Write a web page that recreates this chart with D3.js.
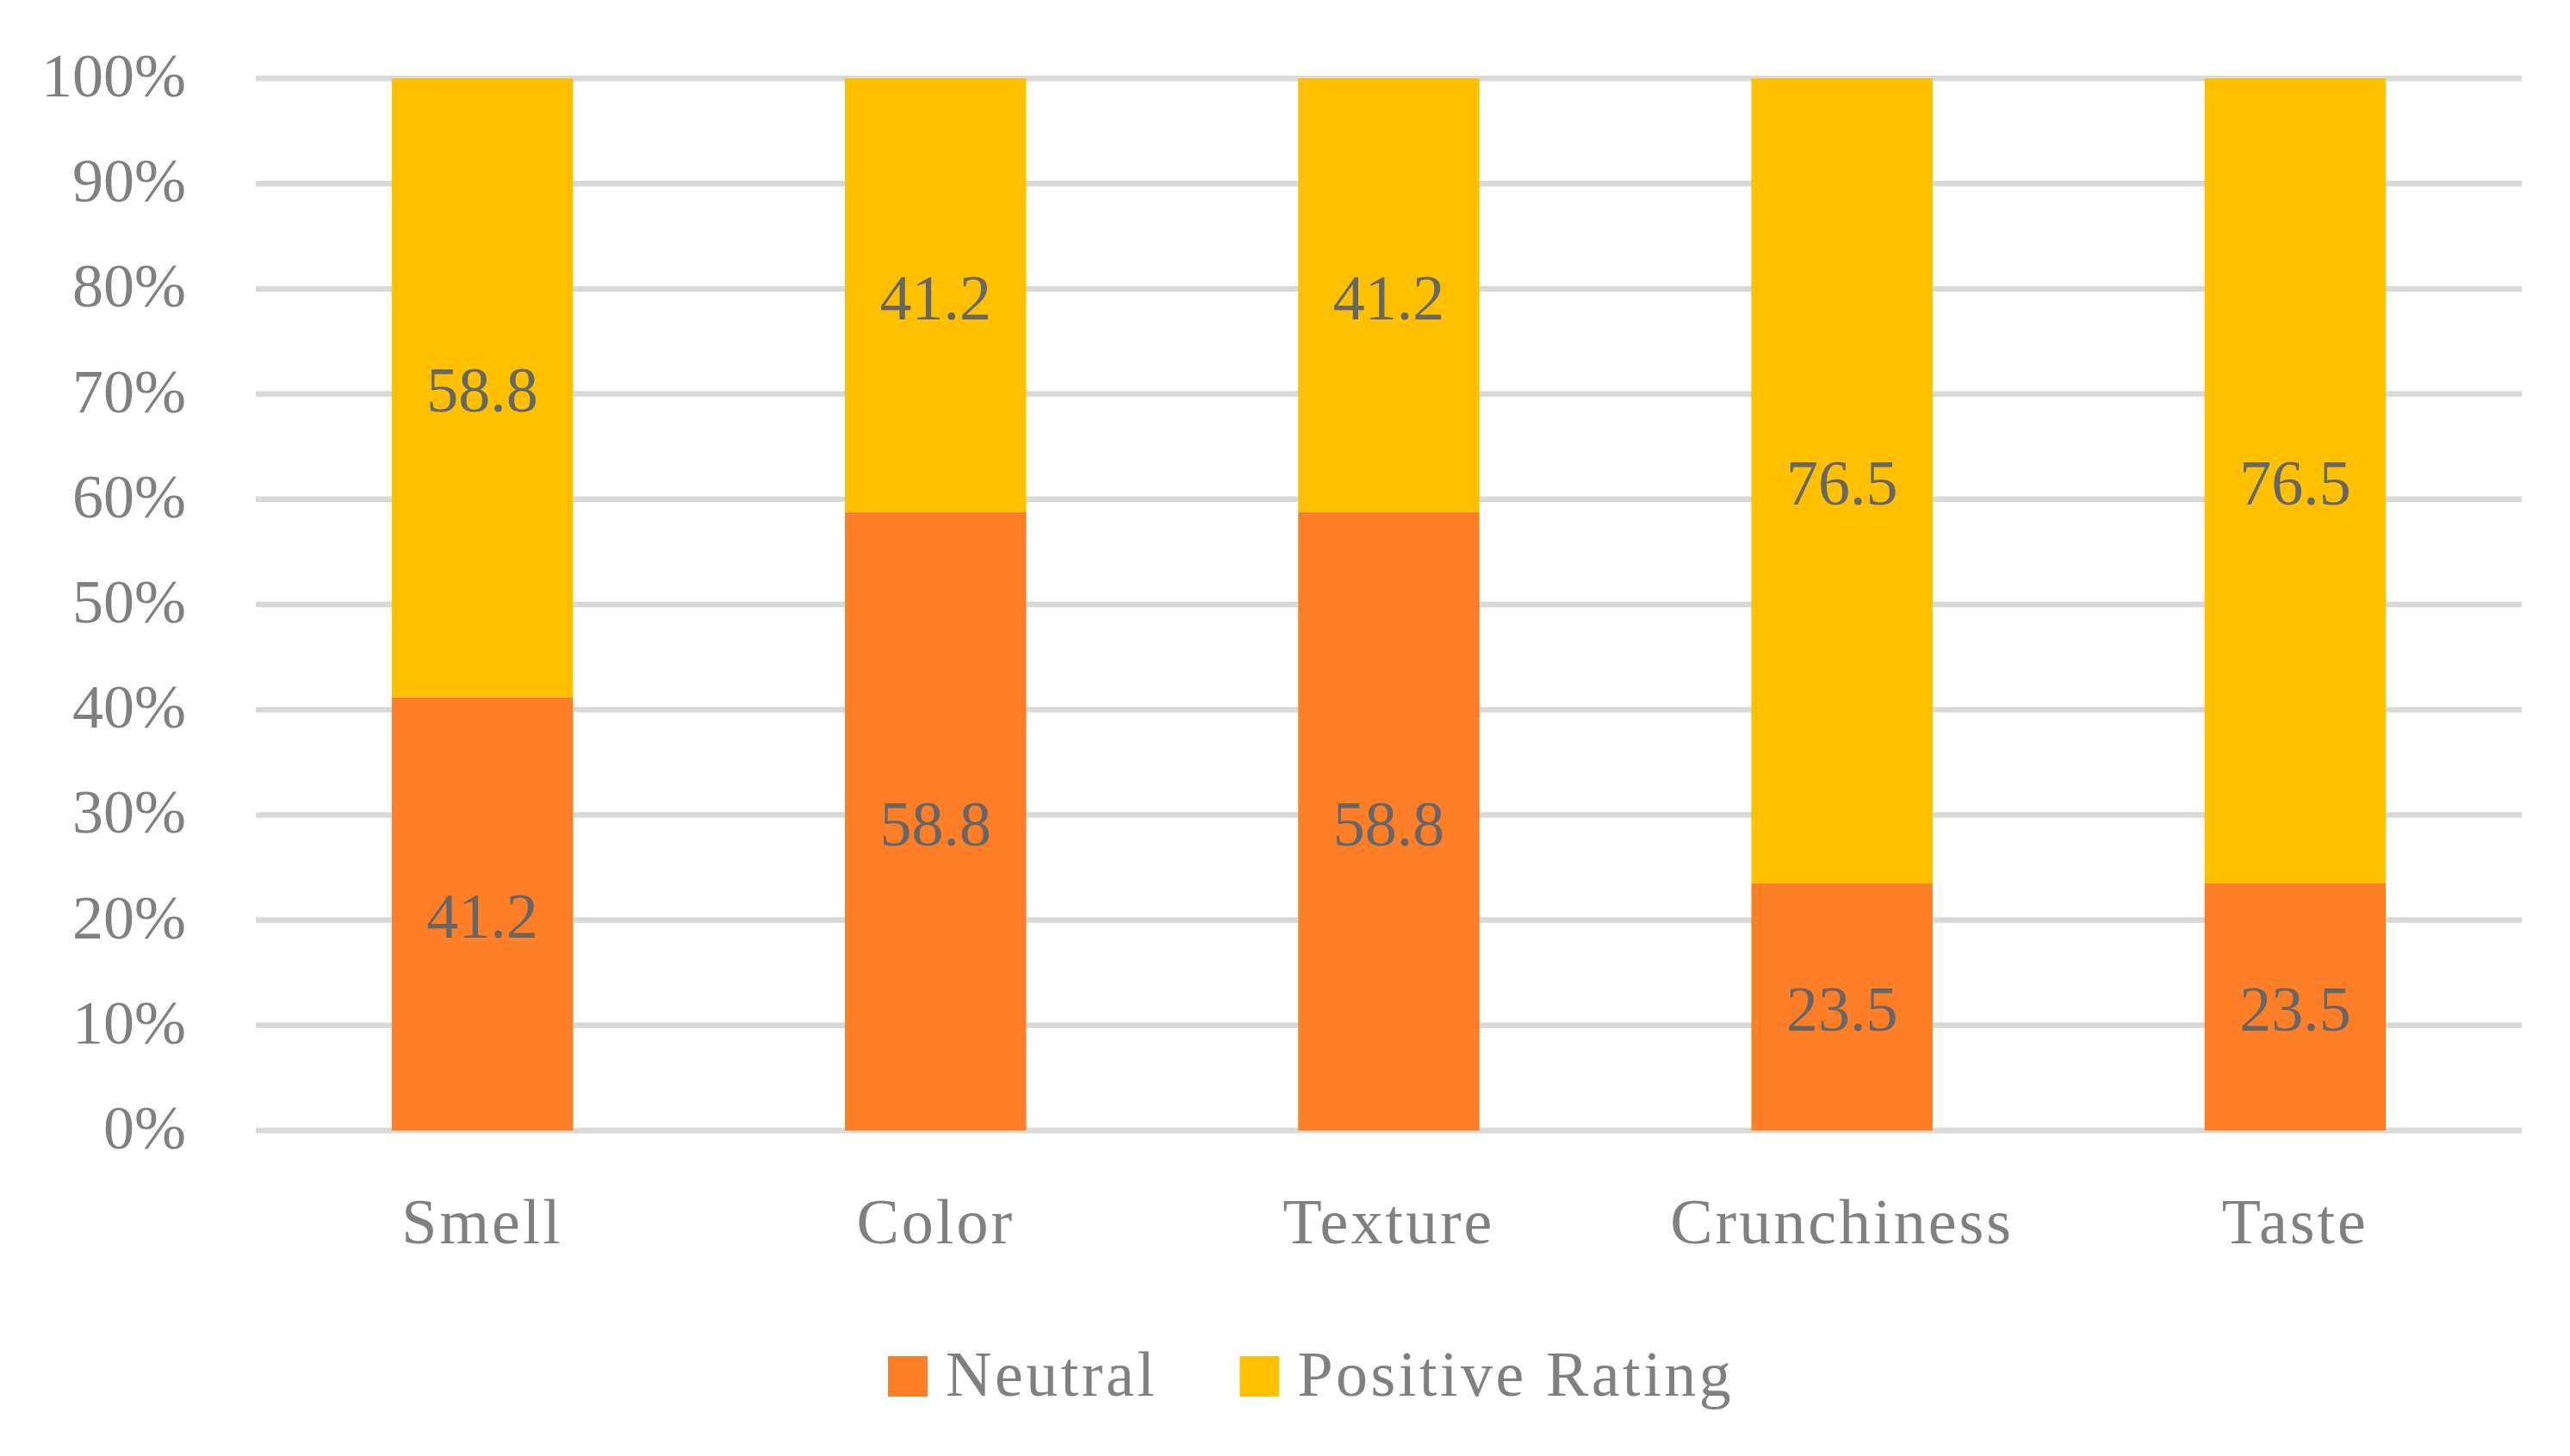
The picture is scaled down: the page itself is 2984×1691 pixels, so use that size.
<!DOCTYPE html>
<html>
<head>
<meta charset="utf-8">
<script src="https://cdn.jsdelivr.net/npm/d3@7"></script>
<style>
  html, body { margin: 0; padding: 0; background: #fff; }
  svg text { font-family: "Palatino Linotype", "Book Antiqua", Palatino, "Liberation Serif", serif; }
</style>
</head>
<body>
<svg id="chart" width="2984" height="1691"></svg>
<script>
const categories = ["Smell", "Color", "Texture", "Crunchiness", "Taste"];
const neutral = [41.2, 58.8, 58.8, 23.5, 23.5];
const positive = [58.8, 41.2, 41.2, 76.5, 76.5];
const seriesNames = ["Neutral", "Positive Rating"];
const yTicks = [0, 10, 20, 30, 40, 50, 60, 70, 80, 90, 100];

const colors = ["#FE7F28", "#FFC000"];

const svg = d3.select("#chart");
const plotLeft = 297, plotRight = 2928, plotTop = 91, plotBottom = 1313;

const x = d3.scaleBand()
  .domain(categories)
  .range([plotLeft, plotRight])
  .paddingInner(0.6)
  .paddingOuter(0.3);

const y = d3.scaleLinear()
  .domain([0, 100])
  .range([plotBottom, plotTop]);

// gridlines
svg.append("g")
  .selectAll("line")
  .data(yTicks)
  .join("line")
  .attr("x1", plotLeft)
  .attr("x2", plotRight)
  .attr("y1", d => y(d))
  .attr("y2", d => y(d))
  .attr("stroke", "#d9d9d9")
  .attr("stroke-width", 6.5);

// y tick labels
svg.append("g")
  .selectAll("text")
  .data(yTicks)
  .join("text")
  .attr("x", 216)
  .attr("y", d => y(d) + 21)
  .attr("text-anchor", "end")
  .attr("font-size", 72)
  .attr("fill", "#808080")
  .text(d => d + "%");

// stack the two series as percent of total
const rows = categories.map((c, i) => {
  const total = neutral[i] + positive[i];
  return { cat: c, Neutral: neutral[i] / total * 100, "Positive Rating": positive[i] / total * 100,
           raw: [neutral[i], positive[i]] };
});
const stacked = d3.stack().keys(seriesNames)(rows);

const layers = svg.append("g")
  .selectAll("g")
  .data(stacked)
  .join("g")
  .attr("fill", (d, i) => colors[i]);

layers.selectAll("rect")
  .data(d => d)
  .join("rect")
  .attr("x", d => x(d.data.cat))
  .attr("width", x.bandwidth())
  .attr("y", d => y(d[1]))
  .attr("height", d => y(d[0]) - y(d[1]));

// data labels
stacked.forEach((layer, si) => {
  svg.append("g")
    .selectAll("text")
    .data(layer)
    .join("text")
    .attr("x", d => x(d.data.cat) + x.bandwidth() / 2)
    .attr("y", d => y((d[0] + d[1]) / 2) + 28)
    .attr("text-anchor", "middle")
    .attr("font-size", 74)
    .attr("fill", "#666666")
    .text(d => d.data.raw[si].toFixed(1));
});

// category labels
svg.append("g")
  .selectAll("text")
  .data(categories)
  .join("text")
  .attr("x", d => x(d) + x.bandwidth() / 2)
  .attr("y", 1444)
  .attr("text-anchor", "middle")
  .attr("font-size", 74)
  .attr("letter-spacing", 3)
  .attr("fill", "#808080")
  .text(d => d);

// legend
const legend = svg.append("g");
let lx = 1031;
seriesNames.forEach((name, i) => {
  legend.append("rect")
    .attr("x", lx)
    .attr("y", 1575)
    .attr("width", 46)
    .attr("height", 47)
    .attr("fill", colors[i]);
  const t = legend.append("text")
    .attr("x", lx + 67)
    .attr("y", 1621)
    .attr("font-size", 74)
    .attr("letter-spacing", 3.5)
    .attr("fill", "#808080")
    .text(name);
  lx += 67 + t.node().getComputedTextLength() + 95;
});
</script>
</body>
</html>
